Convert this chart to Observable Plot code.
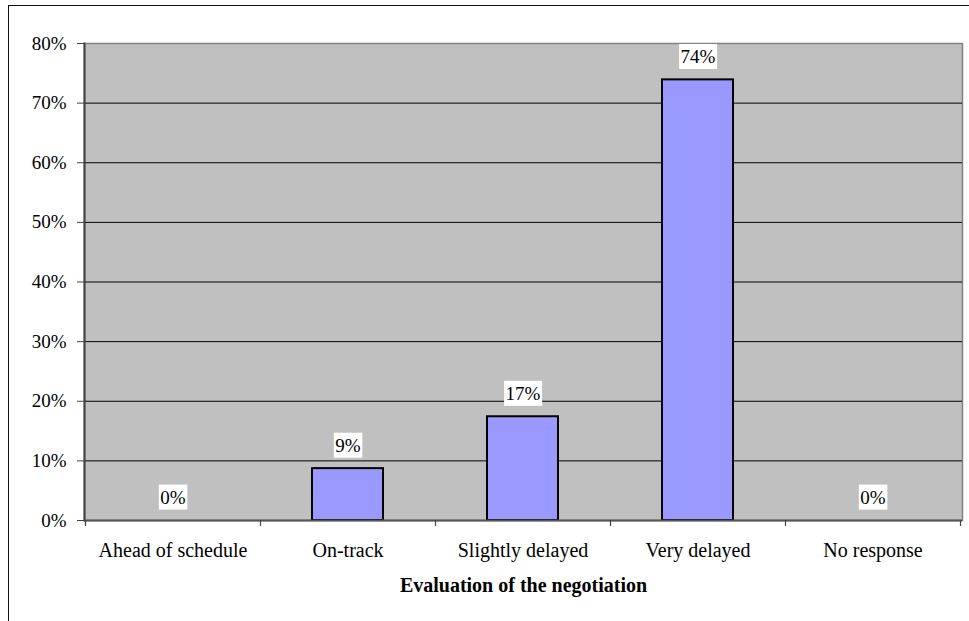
<!DOCTYPE html>
<html><head><meta charset="utf-8">
<script src="https://cdn.jsdelivr.net/npm/d3@7"></script>
<script src="https://cdn.jsdelivr.net/npm/@observablehq/plot@0.6"></script>
<style>
html,body{margin:0;padding:0;background:#fff;overflow:hidden;}
#wrap{position:relative;width:969px;height:621px;overflow:hidden;}
#border{position:absolute;left:8px;top:5px;width:1000px;height:700px;border:1.5px solid #111;pointer-events:none;}
</style></head><body><div id="wrap"><div id="chart"></div><div id="border"></div></div>
<script>
const categories = ["Ahead of schedule", "On-track", "Slightly delayed", "Very delayed", "No response"];
const shares = [0, 0.087, 0.174, 0.739, 0];
const yTicks = [0, 0.1, 0.2, 0.3, 0.4, 0.5, 0.6, 0.7, 0.8];
const gridValues = [0.1, 0.2, 0.3, 0.4, 0.5, 0.6, 0.7];
const axisTitle = "Evaluation of the negotiation";

const data = categories.map((c, i) => ({category: c, share: shares[i]}));
const pct = d3.format(".0%");
const LABEL_FILL = "#000001";

const boundaryTicks = (index, scales, values, dims) => {
  const x = scales.x;
  const bw = typeof x.bandwidth === "function" ? x.bandwidth() : scales.scales.x.bandwidth;
  const step = typeof x.step === "function" ? x.step() : scales.scales.x.step;
  const y0 = dims.height - dims.marginBottom;
  const g = d3.create("svg:g").attr("stroke", "#444").attr("stroke-width", 1.2);
  const edges = categories.map(c => x(c) + bw / 2 - step / 2);
  edges.push(x(categories[categories.length - 1]) + bw / 2 + step / 2);
  for (const e of edges) {
    const xe = Math.round(e) + 0.5;
    g.append("line").attr("x1", xe).attr("x2", xe).attr("y1", y0).attr("y2", y0 + 6);
  }
  return g.node();
};

const chart = Plot.plot({
  width: 969,
  height: 621,
  marginLeft: 84,
  marginRight: 7,
  marginTop: 43,
  marginBottom: 101,
  style: {fontFamily: "'Liberation Serif', 'Times New Roman', serif", color: "black", background: "transparent"},
  x: {type: "band", domain: categories, paddingInner: 0.593, paddingOuter: 0.2965},
  y: {domain: [0, 0.8]},
  marks: [
    Plot.frame({fill: "#c0c0c0", stroke: "#808080", strokeWidth: 1.5}),
    Plot.ruleY(gridValues, {stroke: "black", strokeWidth: 1}),
    Plot.barY(data, {filter: d => d.share > 0, x: "category", y: "share", fill: "#9999ff", stroke: "black", strokeWidth: 2}),
    Plot.frame({anchor: "left", stroke: "#404040", strokeWidth: 2}),
    Plot.ruleY([0], {stroke: "#555", strokeWidth: 2}),
    boundaryTicks,
    Plot.axisY({ticks: yTicks, tickFormat: pct, tickSize: 7, tickPadding: 11, fontSize: 19, label: null, stroke: "#444"}),
    Plot.axisX({tickSize: 0, tickPadding: 22, fontSize: 20, label: null}),
    Plot.text(data, {x: "category", y: "share", text: d => pct(d.share), dy: -23, lineAnchor: "middle", fontSize: 19, fill: LABEL_FILL}),
    Plot.text([axisTitle], {frameAnchor: "bottom", dy: 65, lineAnchor: "middle", fontSize: 20, fontWeight: "bold", fill: "black"})
  ]
});
document.getElementById("chart").append(chart);

const labelTexts = Array.from(chart.querySelectorAll("text")).filter(t => {
  const g = t.closest("g");
  return g && g.getAttribute("fill") === LABEL_FILL;
});
labelTexts.forEach(t => {
  const b = t.getBBox();
  const r = document.createElementNS("http://www.w3.org/2000/svg", "rect");
  r.setAttribute("x", b.x - 1.5);
  r.setAttribute("y", b.y - 2);
  r.setAttribute("width", b.width + 3);
  r.setAttribute("height", b.height + 4);
  r.setAttribute("fill", "white");
  r.setAttribute("stroke", "none");
  if (t.getAttribute("transform")) r.setAttribute("transform", t.getAttribute("transform"));
  t.parentNode.insertBefore(r, t);
});
</script></body></html>
